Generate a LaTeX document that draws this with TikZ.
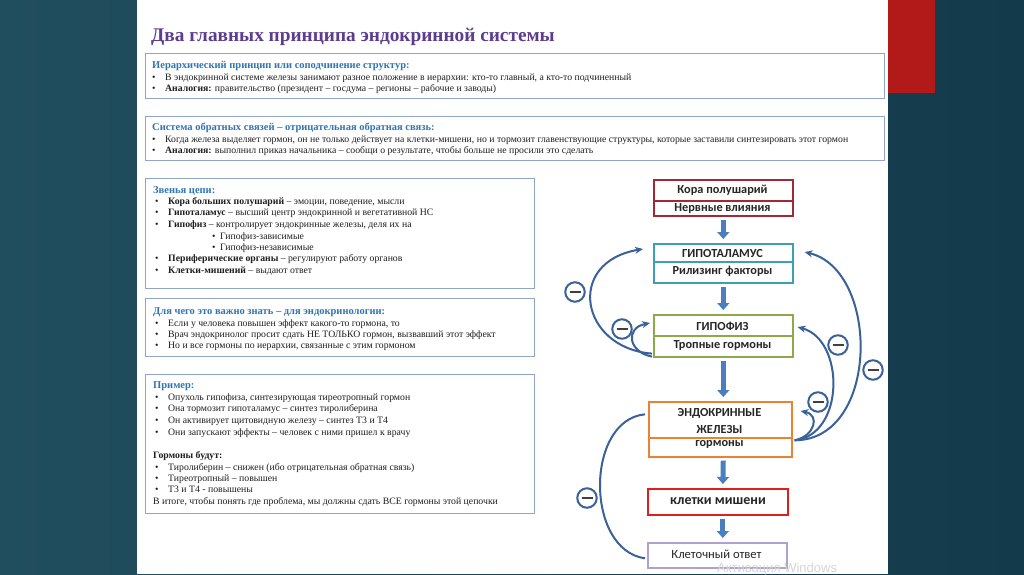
\documentclass[tikz,border=0pt]{standalone}
\usepackage{fontspec}
\setmainfont{Liberation Serif}
\newfontfamily\calfont{Carlito}
\newfontfamily\wmfont{Liberation Sans}
\usetikzlibrary{arrows.meta,calc}
\definecolor{bgL}{RGB}{33,78,94}
\definecolor{bgR}{RGB}{19,58,74}
\definecolor{slidered}{RGB}{178,26,26}
\definecolor{titlepurple}{RGB}{92,60,142}
\definecolor{headblue}{RGB}{46,117,182}
\definecolor{boxline}{RGB}{143,166,200}
\definecolor{bodytext}{RGB}{30,30,30}
\definecolor{koracol}{RGB}{160,40,55}
\definecolor{hypocol}{RGB}{60,160,180}
\definecolor{hypfcol}{RGB}{140,170,75}
\definecolor{endocol}{RGB}{235,130,50}
\definecolor{kletcol}{RGB}{225,30,30}
\definecolor{otvcol}{RGB}{175,160,205}
\definecolor{blockblue}{RGB}{74,126,190}
\definecolor{arcblue}{RGB}{58,98,152}
\newcommand\bu{\makebox[13pt][l]{•}}
\newcommand\sbu{\makebox[8pt][l]{•}}
\begin{document}
\begin{tikzpicture}[x=1pt,y=-1pt,
  infobox/.style={draw=boxline, line width=1.3pt, fill=white, inner sep=0, anchor=north west},
  head/.style={anchor=base west, inner sep=0, text=headblue, font=\bfseries\fontsize{10.5}{12}\selectfont},
  body/.style={anchor=base west, inner sep=0, text=bodytext, font=\fontsize{9.75}{12}\selectfont},
  dbox/.style={draw=#1, line width=1.6pt, fill=white, inner sep=0, anchor=north west},
  dtext/.style={inner sep=0, font=\calfont\bfseries\fontsize{12.3}{14}\selectfont, text=black!85},
  block/.style={draw=blockblue, line width=5pt, -{Triangle[width=12pt,length=7pt]}, shorten >=4pt, shorten <=3pt},
  fb/.style={draw=arcblue, line width=2pt},
  fbarr/.style={fb, -{Stealth[length=8pt,width=7pt]}},
  minuscirc/.style={circle, draw=arcblue, line width=2pt, fill=white, minimum size=19.5pt, inner sep=0,
    path picture={\draw[line width=1.5pt, black!75] ([xshift=-5.5pt]path picture bounding box.center) -- ([xshift=5.5pt]path picture bounding box.center);}}
]
\useasboundingbox (0,0) rectangle (1024,574);
\shade[left color=bgL, right color=bgR] (0,0) rectangle (1024,574);
\fill[white] (137,0) rectangle (888,574);
\fill[slidered] (888,0) rectangle (935,93);

\node[anchor=base west, inner sep=0, text=titlepurple, font=\bfseries\fontsize{19.3}{22}\selectfont] (title) at (151,41.5) {Два главных принципа эндокринной системы};

% box 1
\node[infobox, minimum width=739pt, minimum height=45pt] (b1) at (145,53) {};
\node[head] (b1h) at (152,68.5) {Иерархический принцип или соподчинение структур:};
\node[body] (b1a) at (152,80.5) {\bu В эндокринной системе железы занимают разное положение в иерархии: кто-то главный, а кто-то подчиненный};
\node[body] (b1b) at (152,91.5) {\bu\textbf{Аналогия:} правительство (президент – госдума – регионы – рабочие и заводы)};

% box 2
\node[infobox, minimum width=739pt, minimum height=44pt] (b2) at (145,116) {};
\node[head] (b2h) at (152,130.5) {Система обратных связей – отрицательная обратная связь:};
\node[body] (b2a) at (152,142.5) {\bu Когда железа выделяет гормон, он не только действует на клетки-мишени, но и тормозит главенствующие структуры, которые заставили синтезировать этот гормон};
\node[body] (b2b) at (152,153.5) {\bu\textbf{Аналогия:} выполнил приказ начальника – сообщи о результате, чтобы больше не просили это сделать};

% box 3
\node[infobox, minimum width=389pt, minimum height=110pt] (b3) at (145,178) {};
\node[head] (b3h) at (153,193) {Звенья цепи:};
\node[body] (b3a) at (155,204.5) {\bu\textbf{Кора больших полушарий} – эмоции, поведение, мысли};
\node[body] (b3b) at (155,215.5) {\bu\textbf{Гипоталамус} – высший центр эндокринной и вегетативной НС};
\node[body] (b3c) at (155,227) {\bu\textbf{Гипофиз} – контролирует эндокринные железы, деля их на};
\node[body] (b3d) at (212,239.5) {\sbu Гипофиз-зависимые};
\node[body] (b3e) at (212,250) {\sbu Гипофиз-независимые};
\node[body] (b3f) at (155,261.5) {\bu\textbf{Периферические органы} – регулируют работу органов};
\node[body] (b3g) at (155,273) {\bu\textbf{Клетки-мишений} – выдают ответ};

% box 4
\node[infobox, minimum width=389pt, minimum height=58pt] (b4) at (145,298) {};
\node[head] (b4h) at (153,314) {Для чего это важно знать – для эндокринологии:};
\node[body] (b4a) at (155,326) {\bu Если у человека повышен эффект какого-то гормона, то};
\node[body] (b4b) at (155,337) {\bu Врач эндокринолог просит сдать НЕ ТОЛЬКО гормон, вызвавший этот эффект};
\node[body] (b4c) at (155,348) {\bu Но и все гормоны по иерархии, связанные с этим гормоном};

% box 5
\node[infobox, minimum width=389pt, minimum height=139pt] (b5) at (145,374) {};
\node[head] (b5h) at (153,388) {Пример:};
\node[body] (b5a) at (155,400) {\bu Опухоль гипофиза, синтезирующая тиреотропный гормон};
\node[body] (b5b) at (155,411.5) {\bu Она тормозит гипоталамус – синтез тиролиберина};
\node[body] (b5c) at (155,423) {\bu Он активирует щитовидную железу – синтез Т3 и Т4};
\node[body] (b5d) at (155,435) {\bu Они запускают эффекты – человек с ними пришел к врачу};
\node[body] (b5e) at (153,458) {\textbf{Гормоны будут:}};
\node[body] (b5f) at (155,470) {\bu Тиролиберин – снижен (ибо отрицательная обратная связь)};
\node[body] (b5g) at (155,481.5) {\bu Тиреотропный – повышен};
\node[body] (b5h2) at (155,492.5) {\bu Т3 и Т4 - повышены};
\node[body] (b5i) at (153,504) {В итоге, чтобы понять где проблема, мы должны сдать ВСЕ гормоны этой цепочки};

% diagram boxes
\node[dbox=koracol, minimum width=139pt, minimum height=36pt] (kora) at (653,179) {};
\draw[koracol, line width=1.6pt] ($(kora.north west)+(0,22)$) -- ($(kora.north east)+(0,22)$);
\node[dtext] (koraA) at (722.5,190.5) {Кора полушарий};
\node[dtext] (koraB) at (722.5,208.5) {Нервные влияния};

\node[dbox=hypocol, minimum width=139pt, minimum height=39pt] (hypoth) at (653,243) {};
\draw[hypocol, line width=1.6pt] ($(hypoth.north west)+(0,19)$) -- ($(hypoth.north east)+(0,19)$);
\node[dtext] (hypothA) at (722.5,254) {ГИПОТАЛАМУС};
\node[dtext] (hypothB) at (722.5,271.5) {Рилизинг факторы};

\node[dbox=hypfcol, minimum width=139pt, minimum height=42pt] (hyp) at (653,314) {};
\draw[hypfcol, line width=1.6pt] ($(hyp.north west)+(0,22)$) -- ($(hyp.north east)+(0,22)$);
\node[dtext] (hypA) at (722.5,326) {ГИПОФИЗ};
\node[dtext] (hypB) at (722.5,345) {Тропные гормоны};

\node[dbox=endocol, minimum width=143pt, minimum height=55pt] (endo) at (648,401) {};
\draw[endocol, line width=1.6pt] ($(endo.north west)+(0,37)$) -- ($(endo.north east)+(0,37)$);
\node[dtext] (endoA) at (719.5,413) {ЭНДОКРИННЫЕ};
\node[dtext] (endoB) at (719.5,429) {ЖЕЛЕЗЫ};
\node[dtext] (endoC) at (719.5,444.5) {гормоны};

\node[dbox=kletcol, minimum width=140pt, minimum height=26pt] (klet) at (647,488) {};
\node[dtext, font=\calfont\bfseries\fontsize{14}{16}\selectfont] (kletA) at (718,501.5) {клетки мишени};

\node[dbox=otvcol, minimum width=139pt, minimum height=25pt] (otvet) at (647,542) {};
\node[dtext, font=\calfont\fontsize{12.6}{14}\selectfont] (otvetA) at (716.5,554.5) {Клеточный ответ};

% block arrows
\draw[block] (kora.south) -- (hypoth.north);
\draw[block] (hypoth.south) -- (hyp.north);
\draw[block] (hyp.south) -- ($(endo.north)+(3,0)$);
\draw[block] ($(endo.south)+(3,0)$) -- ($(klet.north)+(5,0)$);
\draw[block] ($(klet.south)+(5,0)$) -- ($(otvet.north)+(5.5,0)$);

% feedback arcs
\draw[fbarr] ($(hyp.south west)+(-1,-4)$) .. controls (580,348) and (565,262) .. ($(hypoth.north west)+(-10,6)$);
\draw[fbarr] ($(hyp.south west)+(-1,-1)$) .. controls (628,352) and (625,328) .. ($(hyp.north west)+(-3,9)$);
\draw[fbarr] ($(endo.east)+(2,11)$) .. controls (880,440) and (880,270) .. ($(hypoth.north east)+(11,9)$);
\draw[fbarr] ($(endo.east)+(2,11)$) .. controls (845,435) and (845,340) .. ($(hyp.north east)+(4,13)$);
\draw[fbarr] ($(endo.east)+(2,11)$) .. controls (815,436) and (820,415) .. ($(endo.north east)+(8,10)$);
\draw[fb] ($(otvet.west)+(-2,3)$) .. controls (585,550) and (585,420) .. ($(endo.west)+(-3,-15)$);

\node[minuscirc] (m1) at (575,292) {};
\node[minuscirc] (m2) at (622,329) {};
\node[minuscirc] (m3) at (873,370) {};
\node[minuscirc] (m4) at (838,345) {};
\node[minuscirc] (m5) at (818,402) {};
\node[minuscirc] (m6) at (587,498) {};

\node[anchor=base west, inner sep=0, text=black!16, font=\wmfont\fontsize{13}{15}\selectfont] (wm) at (717,572) {Активация Windows};
\end{tikzpicture}
\end{document}
